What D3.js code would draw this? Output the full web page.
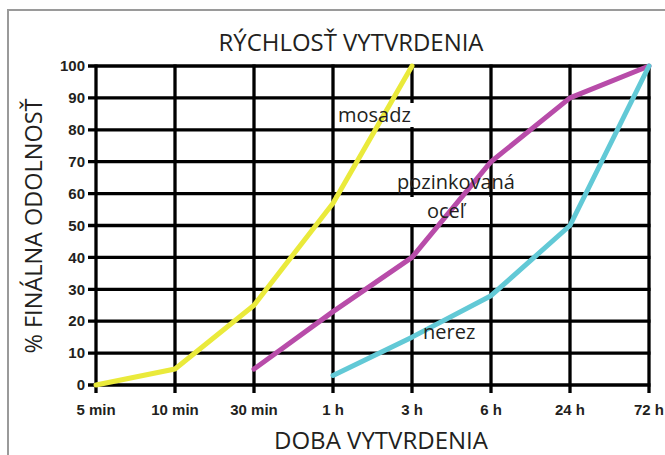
<!DOCTYPE html>
<html>
<head>
<meta charset="utf-8">
<script src="https://cdn.jsdelivr.net/npm/d3@7"></script>
<style>
  body { margin: 0; background: #fff; }
  text { font-family: "Open Sans", "Noto Sans", sans-serif; fill: #231f20; }
  .tick-label { font-family: "Liberation Sans Narrow", "Liberation Sans", Arial, sans-serif; font-weight: bold; font-size: 15px; }
</style>
</head>
<body>
<div class="canva"></div>
<script>
// categories (x axis) and y ticks
const times = ["5 min", "10 min", "30 min", "1 h", "3 h", "6 h", "24 h", "72 h"];
const yTicks = [0, 10, 20, 30, 40, 50, 60, 70, 80, 90, 100];

// series: [time, % strength]
const mosadz = [["5 min", 0], ["10 min", 5], ["30 min", 25], ["1 h", 57], ["3 h", 100]];
const pozinkovana = [["30 min", 5], ["1 h", 23], ["3 h", 40], ["6 h", 70], ["24 h", 90], ["72 h", 100]];
const nerez = [["1 h", 3], ["3 h", 15], ["6 h", 28], ["24 h", 50], ["72 h", 100]];

const W = 665, H = 455;
const svg = d3.select(".canva").append("svg")
  .attr("width", W)
  .attr("height", H);

// gray frame
svg.append("path")
  .attr("d", `M8,${H} L8,10 L${W},10`)
  .attr("fill", "none")
  .attr("stroke", "#9a9a9a")
  .attr("stroke-width", 2);

const x = d3.scalePoint().domain(times).range([96, 649]);
const y = d3.scaleLinear().domain([0, 100]).range([385, 66]);

// grid
const grid = svg.append("g").attr("stroke", "#000").attr("stroke-width", 3.3);
grid.selectAll(".h").data(yTicks).enter().append("line")
  .attr("x1", 88).attr("x2", x("72 h") + 1.5)
  .attr("y1", d => y(d)).attr("y2", d => y(d));
grid.selectAll(".v").data(times).enter().append("line")
  .attr("x1", d => x(d)).attr("x2", d => x(d))
  .attr("y1", y(100) - 1.5).attr("y2", y(0) + 8);

// tick labels
svg.selectAll(".ylab").data(yTicks).enter().append("text")
  .attr("class", "tick-label")
  .attr("x", 85).attr("y", d => y(d))
  .attr("dy", "0.35em")
  .attr("text-anchor", "end")
  .text(d => d);

svg.selectAll(".xlab").data(times).enter().append("text")
  .attr("class", "tick-label")
  .attr("x", d => x(d)).attr("y", 415)
  .attr("text-anchor", "middle")
  .text(d => d);

// white patches behind series labels
const labels = [
  {t: "mosadz", x: 338, y: 122},
  {t: "pozinkovaná", x: 397, y: 189},
  {t: "oceľ", x: 427, y: 218},
  {t: "nerez", x: 423, y: 339}
];
svg.append("rect").attr("x", 337).attr("y", 103).attr("width", 78).attr("height", 24).attr("fill", "#fff");
svg.append("rect").attr("x", 410).attr("y", 197).attr("width", 80).attr("height", 27).attr("fill", "#fff");
svg.append("rect").attr("x", 421).attr("y", 323).attr("width", 58).attr("height", 24).attr("fill", "#fff");

// lines
const line = d3.line()
  .x(d => x(d[0]))
  .y(d => y(d[1]));

const series = [
  {data: mosadz, color: "#eaea3b"},
  {data: pozinkovana, color: "#b84ca9"},
  {data: nerez, color: "#62c9d6"}
];
svg.selectAll(".series").data(series).enter().append("path")
  .attr("d", d => line(d.data))
  .attr("fill", "none")
  .attr("stroke", d => d.color)
  .attr("stroke-width", 5)
  .attr("stroke-linejoin", "round")
  .attr("stroke-linecap", "round");

// series labels
svg.selectAll(".slab").data(labels).enter().append("text")
  .attr("x", d => d.x).attr("y", d => d.y)
  .style("font-size", "20px")
  .text(d => d.t);

// titles
svg.append("text")
  .attr("x", 351).attr("y", 51)
  .attr("text-anchor", "middle")
  .attr("textLength", 265).attr("lengthAdjust", "spacingAndGlyphs")
  .style("font-size", "23px")
  .text("RÝCHLOSŤ VYTVRDENIA");

svg.append("text")
  .attr("x", 381).attr("y", 449)
  .attr("text-anchor", "middle")
  .attr("textLength", 214).attr("lengthAdjust", "spacingAndGlyphs")
  .style("font-size", "23px")
  .text("DOBA VYTVRDENIA");

svg.append("text")
  .attr("transform", "translate(42,226) rotate(-90)")
  .attr("text-anchor", "middle")
  .attr("textLength", 255).attr("lengthAdjust", "spacingAndGlyphs")
  .style("font-size", "23px")
  .text("% FINÁLNA ODOLNOSŤ");
</script>
</body>
</html>
